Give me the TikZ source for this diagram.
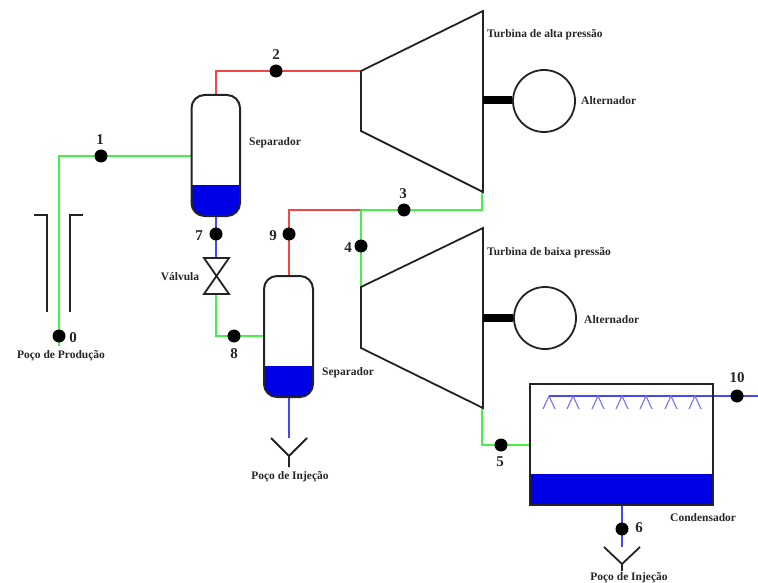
\documentclass[tikz,border=0pt]{standalone}
\usepackage{fontspec}
\setmainfont{Liberation Serif}
\definecolor{gline}{RGB}{70,240,70}
\definecolor{rline}{RGB}{245,70,70}
\definecolor{bline}{RGB}{70,70,245}
\definecolor{liquid}{RGB}{0,0,230}
\definecolor{eqp}{RGB}{35,35,35}
\tikzset{
  eq/.style={draw=eqp,line width=1.8pt,line join=miter},
  vessel/.style={draw=eqp,line width=2pt,rounded corners=13pt},
  gflow/.style={draw=gline,line width=1.2pt},
  rflow/.style={draw=rline,line width=1.2pt},
  bflow/.style={draw=bline,line width=1.1pt},
  pt/.style={circle,fill=black,inner sep=0pt,minimum size=13pt},
  num/.style={font=\fontsize{15}{15}\selectfont\bfseries,text=black!85,inner sep=0pt,yshift=-1pt},
  lab/.style={font=\fontsize{11.5}{12}\selectfont\bfseries,text=black!85,inner sep=0pt,yshift=-1.2pt},
  labl/.style={lab,anchor=west},
}
\begin{document}
\begin{tikzpicture}[x=1pt,y=-1pt]
\useasboundingbox (0,0) rectangle (758,583);
\fill[white] (0,0) rectangle (758,583);
% named anchors
\coordinate (s1t) at (216,95);
\coordinate (s1b) at (216,216);
\coordinate (s1l) at (191.5,156);
\coordinate (s2t) at (289,276);
\coordinate (s2b) at (289,397);
\coordinate (s2l) at (264,336);
\coordinate (ht) at (361,71);
\coordinate (hout) at (482,192);
\coordinate (lin) at (361,287);
\coordinate (lout) at (482,408);
\coordinate (j) at (361,210);
\coordinate (cl) at (530,445);
\coordinate (vt) at (216,258);
\coordinate (vb) at (216,294);
\coordinate (well) at (59,346);
\coordinate (y1) at (289,438);
\coordinate (y2) at (622,547);
\coordinate (cb) at (622,505);
\coordinate (sp) at (549,396);
\coordinate (spe) at (758,396);
% liquid fills
\begin{scope}
\clip (191.5,186) rectangle (240,220);
\fill[liquid,rounded corners=13pt] (191.5,95) rectangle (240,216);
\end{scope}
\begin{scope}
\clip (264,366) rectangle (313,400);
\fill[liquid,rounded corners=13pt] (264,276) rectangle (313,397);
\end{scope}
\fill[liquid] (530,474) rectangle (713,505);
% flows
\draw[gflow] (well) -- (59,156) -- (s1l);
\draw[rflow] (s1t) -- (216,71) -- (ht);
\draw[bflow] (s1b) -- (vt);
\draw[gflow] (vb) -- (216,336) -- (s2l);
\draw[rflow] (s2t) -- (289,210) -- (j);
\draw[gflow] (j) -- (482,210) -- (hout);
\draw[gflow] (j) -- (lin);
\draw[gflow] (lout) -- (482,445) -- (cl);
\draw[bflow] (s2b) -- (y1);
\draw[bflow] (cb) -- (y2);
\draw[bflow] (sp) -- (spe);
\foreach \x in {549,573,598,622,646,671,695}
  \draw[bflow,draw=bline!75!white] (\x-6,409) -- (\x,396) -- (\x+6,409);
% vessels
\draw[vessel] (191.5,95) rectangle (240,216);
\draw[vessel] (264,276) rectangle (313,397);
% well casing
\draw[eq] (34,215) -- (47,215) -- (47,312);
\draw[eq] (83,215) -- (70,215) -- (70,312);
% valve
\draw[eq] (204,258) -- (229,258) -- (204,294) -- (229,294) -- cycle;
% turbines
\draw[eq] (361,71) -- (483,11) -- (483,192) -- (361,131) -- cycle;
\draw[eq] (361,287) -- (483,228) -- (483,408) -- (361,348) -- cycle;
% alternators
\node[circle,draw=eqp,line width=1.8pt,minimum size=62pt,inner sep=0pt] (a1) at (544,101) {};
\node[circle,draw=eqp,line width=1.8pt,minimum size=62pt,inner sep=0pt] (a2) at (545,318) {};
\draw[black,line width=8pt] (483,100) -- (a1.west |- 483,100);
\draw[black,line width=8pt] (483,318) -- (a2.west);
% condenser
\draw[draw=eqp,line width=2pt] (530,384) rectangle (713,505);
% discharge Y
\draw[eq] (271,438) -- (289,456) -- (307,438) (289,456) -- (289,467);
\draw[eq] (604,547) -- (622,564) -- (640,547) (622,564) -- (622,571);
% state points
\node[pt] (p0) at (59,336) {};
\node[pt] (p1) at (101,156) {};
\node[pt] (p2) at (276,71) {};
\node[pt] (p3) at (404,210) {};
\node[pt] (p4) at (361,246) {};
\node[pt] (p5) at (501,445) {};
\node[pt] (p6) at (622,529) {};
\node[pt] (p7) at (216,234) {};
\node[pt] (p8) at (234,336) {};
\node[pt] (p9) at (289,234) {};
\node[pt] (p10) at (737,396) {};
% numbers
\node[num] (n0) at (73,337) {0};
\node[num] (n1) at (100,139) {1};
\node[num] (n2) at (276,54) {2};
\node[num] (n3) at (403,193) {3};
\node[num] (n4) at (348,247) {4};
\node[num] (n5) at (500,461) {5};
\node[num] (n6) at (639,527) {6};
\node[num] (n7) at (199,235) {7};
\node[num] (n8) at (234,353) {8};
\node[num] (n9) at (273,235) {9};
\node[num] (n10) at (737,377) {10};
% labels
\node[labl] (t1) at (487,34) {Turbina de alta pressão};
\node[labl] (t2) at (487,252) {Turbina de baixa pressão};
\node[labl] (al1) at (581,99) {Alternador};
\node[labl] (al2) at (584,318) {Alternador};
\node[labl] (se1) at (249,142) {Separador};
\node[labl] (se2) at (322,372) {Separador};
\node[labl] (co) at (670,516) {Condensador};
\node[lab] (va) at (180,275) {Válvula};
\node[lab] (pp) at (61,354) {Poço de Produção};
\node[lab] (pi1) at (290,476) {Poço de Injeção};
\node[lab] (pi2) at (629,576.5) {Poço de Injeção};
\end{tikzpicture}
\end{document}
